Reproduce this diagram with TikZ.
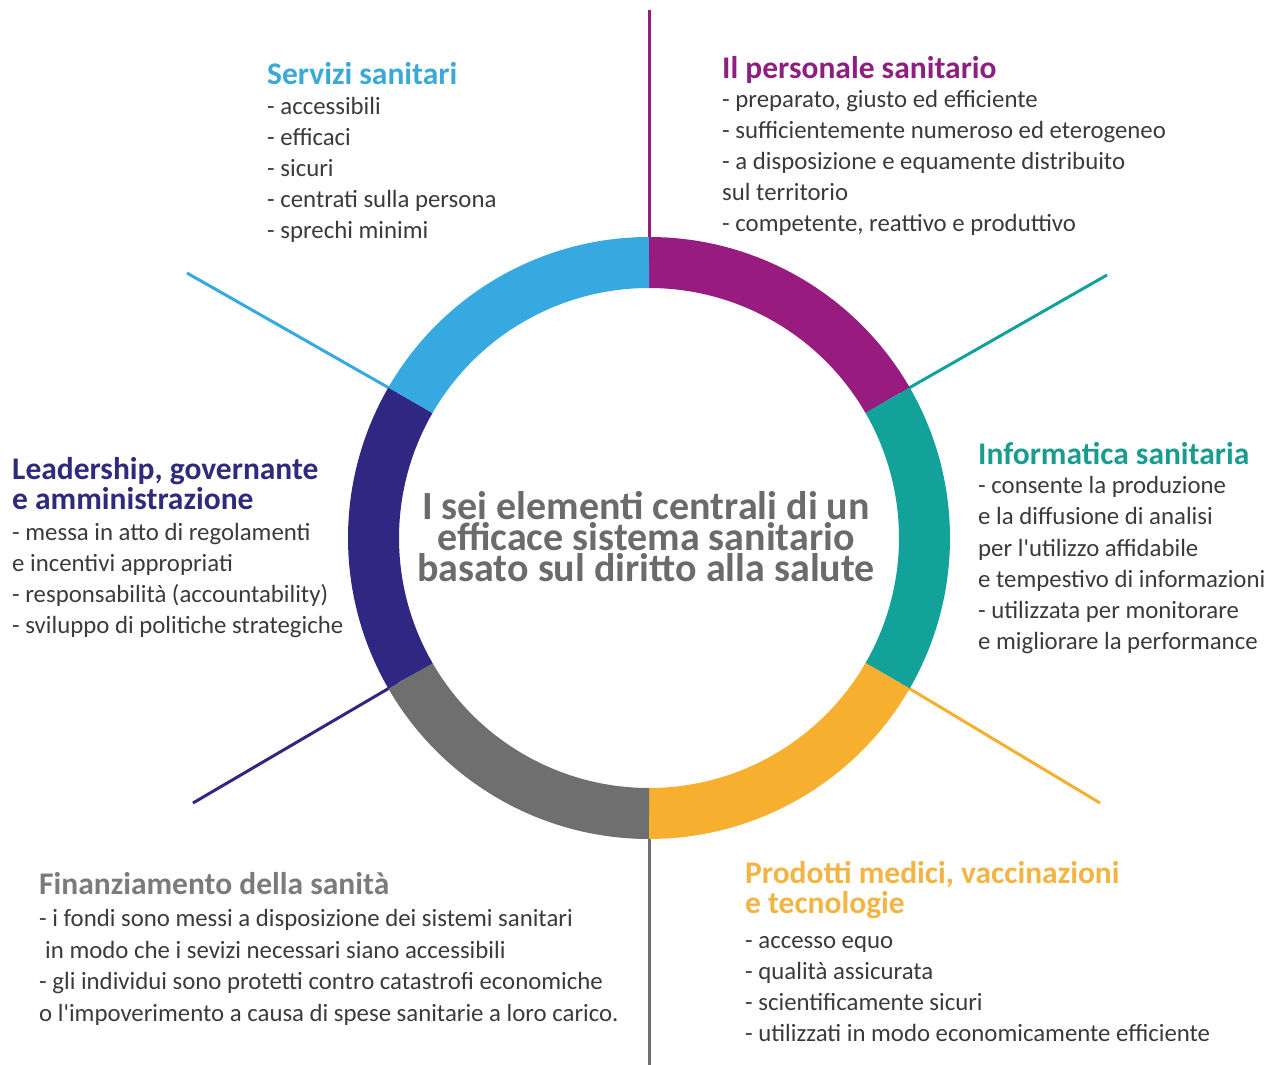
\documentclass[tikz,border=0pt]{standalone}
\usepackage{fontspec}
\setmainfont{Carlito}
\usetikzlibrary{calc}

\definecolor{cPurple}{HTML}{981C80}
\definecolor{cTeal}{HTML}{12A29A}
\definecolor{cYellow}{HTML}{F7AF30}
\definecolor{cGray}{HTML}{6F6F6F}
\definecolor{cNavy}{HTML}{302783}
\definecolor{cSky}{HTML}{37A9E1}
\definecolor{hPurple}{HTML}{8E1F80}
\definecolor{hTeal}{HTML}{1A9C8C}
\definecolor{hYellow}{HTML}{F2B443}
\definecolor{hGray}{HTML}{7B7B7B}
\definecolor{hNavy}{HTML}{2E2A7E}
\definecolor{hSky}{HTML}{3BA8DA}
\definecolor{cBody}{HTML}{3A3A3A}
\definecolor{cCenter}{HTML}{6B6B6B}

\tikzset{
  seg/.style={line width=51pt},
  spoke/.style={line width=3pt},
  head/.style={anchor=north west, inner sep=0pt, align=left,
    font=\fontsize{31.5}{30}\selectfont\bfseries},
  body/.style={anchor=north west, inner sep=0pt, align=left, text=cBody,
    font=\fontsize{24.8}{31.2}\selectfont},
  widebody/.style={body, font=\fontsize{24.8}{31.6}\selectfont},
  title/.style={anchor=north, inner sep=0pt, align=center, text=cCenter,
    font=\fontsize{40}{31}\selectfont\bfseries},
}
\newcommand\bodystrut{\rule{0pt}{21.56pt}}
\newcommand\headstrut{\rule{0pt}{21pt}}
\newcommand\titlestrut{\rule{0pt}{32pt}}
\newcommand\apo{\textquotesingle}

\begin{document}
\lineskiplimit=-50pt
\begin{tikzpicture}[x=1pt,y=1pt]
\useasboundingbox (0,0) rectangle (1277,-1065);

% centre of the ring and mean radius of the band
\coordinate (C) at (649,-538);
\def\rmid{275.5}
\def\rin{290}

% spokes: from under the ring out to their free ends
\coordinate (pT) at ($(C)+(90:\rin)$);
\coordinate (pTR) at ($(C)+(30:\rin)$);
\coordinate (pBR) at ($(C)+(-30:\rin)$);
\coordinate (pB) at ($(C)+(-90:\rin)$);
\coordinate (pBL) at ($(C)+(210:\rin)$);
\coordinate (pTL) at ($(C)+(150:\rin)$);
\coordinate (eT) at (649,-10);
\coordinate (eTR) at (1107,-275);
\coordinate (eBR) at (1100,-803);
\coordinate (eB) at (649,-1065);
\coordinate (eBL) at (193,-803);
\coordinate (eTL) at (187,-273);

\draw[spoke, cPurple] (pT) -- (eT);
\draw[spoke, cTeal] (pTR) -- (eTR);
\draw[spoke, cYellow] (pBR) -- (eBR);
\draw[spoke, cGray] (pB) -- (eB);
\draw[spoke, cNavy] (pBL) -- (eBL);
\draw[spoke, cSky] (pTL) -- (eTL);

% six coloured arcs of the ring
\draw[seg, cPurple] ($(C)+(90:\rmid)$) arc[start angle=90, end angle=30, radius=\rmid];
\draw[seg, cTeal] ($(C)+(30:\rmid)$) arc[start angle=30, end angle=-30, radius=\rmid];
\draw[seg, cYellow] ($(C)+(-30:\rmid)$) arc[start angle=-30, end angle=-90, radius=\rmid];
\draw[seg, cGray] ($(C)+(-90:\rmid)$) arc[start angle=-90, end angle=-150, radius=\rmid];
\draw[seg, cNavy] ($(C)+(210:\rmid)$) arc[start angle=210, end angle=150, radius=\rmid];
\draw[seg, cSky] ($(C)+(150:\rmid)$) arc[start angle=150, end angle=90, radius=\rmid];

% central title
\node[title] (centro) at (646,-487) {\titlestrut I sei elementi centrali di un\\efficace sistema sanitario\\basato sul diritto alla salute};

% Servizi sanitari
\node[head, text=hSky] (servH) at (267,-62) {\headstrut Servizi sanitari};
\node[body] (servB) at (267,-92.4) {\bodystrut - accessibili\\- efficaci\\- sicuri\\- centrati sulla persona\\- sprechi minimi};

% Il personale sanitario
\node[head, text=hPurple] (persH) at (722,-56) {\headstrut Il personale sanitario};
\node[body] (persB) at (722,-85.4) {\bodystrut - preparato, giusto ed efficiente\\- sufficientemente numeroso ed eterogeneo\\- a disposizione e equamente distribuito\\sul territorio\\- competente, reattivo e produttivo};

% Informatica sanitaria
\node[head, text=hTeal] (infoH) at (978,-442) {\headstrut Informatica sanitaria};
\node[body] (infoB) at (978,-472) {\bodystrut - consente la produzione\\e la diffusione di analisi\\per l\apo utilizzo affidabile\\e tempestivo di informazioni\\- utilizzata per monitorare\\e migliorare la performance};

% Leadership
\node[head, text=hNavy] (leadH) at (12,-457) {\headstrut Leadership, governante\\e amministrazione};
\node[body] (leadB) at (12,-518.4) {\bodystrut - messa in atto di regolamenti\\e incentivi appropriati\\- responsabilità (accountability)\\- sviluppo di politiche strategiche};

% Finanziamento
\node[head, text=hGray] (finH) at (39,-872) {\headstrut Finanziamento della sanità};
\node[widebody] (finB) at (39,-905) {\bodystrut - i fondi sono messi a disposizione dei sistemi sanitari\\\hspace*{6pt}in modo che i sevizi necessari siano accessibili\\- gli individui sono protetti contro catastrofi economiche\\o l\apo impoverimento a causa di spese sanitarie a loro carico.};

% Prodotti medici
\node[head, text=hYellow] (prodH) at (745,-861) {\headstrut Prodotti medici, vaccinazioni\\e tecnologie};
\node[body] (prodB) at (745,-926.5) {\bodystrut - accesso equo\\- qualità assicurata\\- scientificamente sicuri\\- utilizzati in modo economicamente efficiente};

\end{tikzpicture}
\end{document}
